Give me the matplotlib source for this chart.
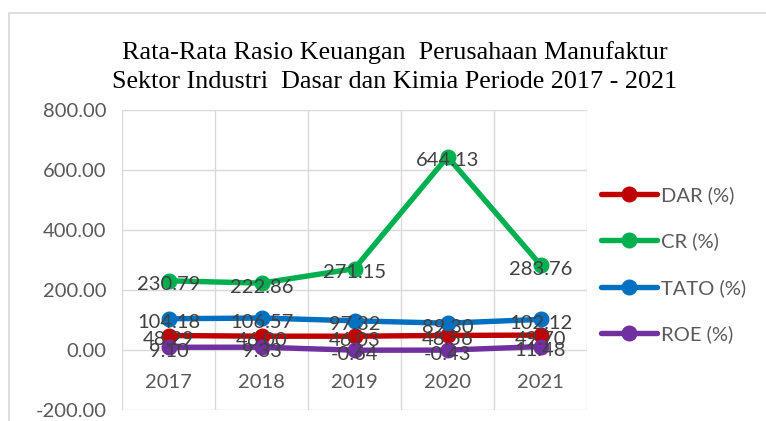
import matplotlib
matplotlib.use("Agg")
import matplotlib.pyplot as plt
from matplotlib.patches import Rectangle

# data
tahun = ["2017", "2018", "2019", "2020", "2021"]
dar = [48.29, 46.00, 46.03, 48.56, 49.70]
cr = [230.79, 222.86, 271.15, 644.13, 283.76]
tato = [104.18, 106.57, 97.32, 89.30, 102.12]
roe = [9.10, 9.33, -0.64, -0.43, 11.48]

series = [
    ("DAR (%)", dar, "#C00000"),
    ("CR (%)", cr, "#00B050"),
    ("TATO (%)", tato, "#0070C0"),
    ("ROE (%)", roe, "#7030A0"),
]

plt.rcParams["font.family"] = ["Lato", "DejaVu Sans"]
ukuran = 14.5

fig = plt.figure(figsize=(7.66, 4.21), dpi=100)
# bingkai luar chart
fig.patches.append(Rectangle((9 / 766, -0.1), 1.2, 1 - 13 / 421 + 0.1,
                             transform=fig.transFigure, fill=False,
                             edgecolor="#D9D9D9", linewidth=1.2))

ax = fig.add_axes([122 / 766, 1 - 410 / 421, 465 / 766, 300 / 421])
x = list(range(1, len(tahun) + 1))

for nama, nilai, warna in series:
    ax.plot(x, nilai, color=warna, linewidth=3.9, marker="o", markersize=10.5,
            label=nama, solid_capstyle="round", zorder=3)
for nama, nilai, warna in series:
    for xi, v in zip(x, nilai):
        ax.annotate(f"{v:.2f}", (xi, v), xytext=(0, -3), textcoords="offset points",
                    ha="center", va="center", fontsize=ukuran, color="#404040", zorder=4)

ax.set_xlim(0.5, len(tahun) + 0.5)
ax.set_ylim(-200, 800)
ax.set_yticks([-200, 0, 200, 400, 600, 800])
ax.set_yticklabels([f"{t:.2f}" for t in [-200, 0, 200, 400, 600, 800]])
ax.tick_params(axis="y", length=0, labelsize=ukuran, labelcolor="#595959", pad=11)
ax.set_xticks([])
for b in range(len(tahun) + 1):
    ax.axvline(b + 0.5, color="#D9D9D9", linewidth=1, zorder=1)
ax.grid(axis="y", color="#D9D9D9", linewidth=1, zorder=1)
for s in ax.spines.values():
    s.set_visible(False)
for xi, t in zip(x, tahun):
    ax.text(xi, -110, t, ha="center", va="center", fontsize=ukuran, color="#595959")

fig.text(395 / 766, 1 - 67 / 421,
         "Rata-Rata Rasio Keuangan  Perusahaan Manufaktur\nSektor Industri  Dasar dan Kimia Periode 2017 - 2021",
         ha="center", va="center", fontsize=18.8, family="Liberation Serif",
         linespacing=1.38)

leg = ax.legend(loc="upper left", bbox_to_anchor=(601 / 766, 1 - 186 / 421),
                bbox_transform=fig.transFigure, frameon=False, fontsize=ukuran,
                handlelength=2.8, handletextpad=0.2, labelspacing=1.42,
                borderaxespad=0, borderpad=0)
for t in leg.get_texts():
    t.set_color("#595959")

fig.savefig("out.png", dpi=100)
